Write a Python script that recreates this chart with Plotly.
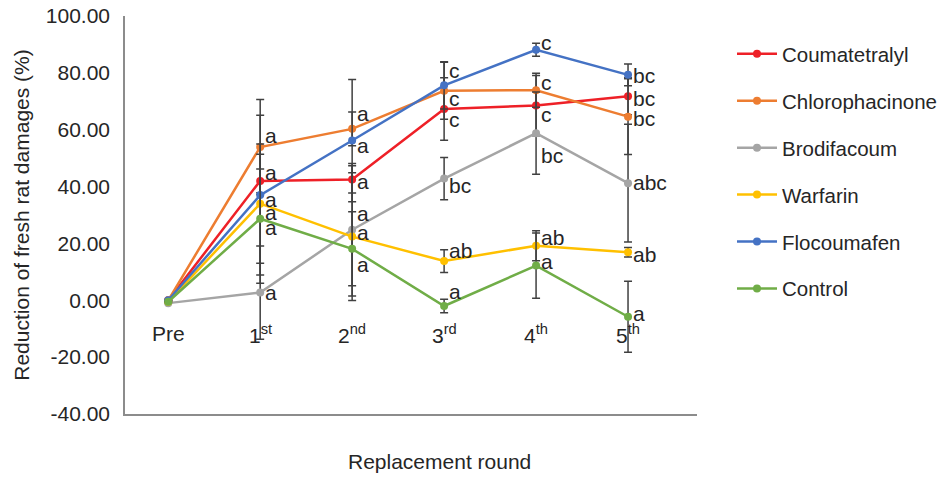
import plotly.graph_objects as go

# ---------------- data ----------------
rounds = ["Pre", "1<sup>st</sup>", "2<sup>nd</sup>", "3<sup>rd</sup>", "4<sup>th</sup>", "5<sup>th</sup>"]
series_names = ["Coumatetralyl", "Chlorophacinone", "Brodifacoum", "Warfarin", "Flocoumafen", "Control"]

coumatetralyl = [0.0, 42.0, 42.5, 67.3, 68.5, 71.8]
chlorophacinone = [0.0, 53.9, 60.3, 73.7, 73.9, 64.6]
brodifacoum = [-1.0, 2.7, 24.8, 42.8, 58.8, 41.2]
warfarin = [-0.5, 34.0, 22.4, 13.8, 19.2, 16.9]
flocoumafen = [0.0, 37.0, 56.2, 75.6, 88.1, 79.3]
control = [-0.5, 28.7, 18.1, -2.0, 12.2, -5.8]

err_coumatetralyl = [None, 4.2, 4.8, 11.0, 10.6, 6.5]
err_chlorophacinone = [None, 16.7, 5.9, 10.0, 6.0, 13.3]
err_brodifacoum = [None, 16.4, 23.3, 7.4, 14.5, 20.7]
err_warfarin = [None, 21.0, 22.5, 4.0, 5.3, 1.7]
err_flocoumafen = [None, 28.1, 21.5, 8.3, 2.3, 3.8]
err_control = [None, 22.7, 13.0, 2.4, 11.5, 12.5]

let_coumatetralyl = ["", "a", "a", "c", "c", "bc"]
let_chlorophacinone = ["", "a", "a", "c", "c", "bc"]
let_brodifacoum = ["", "a", "a", "bc", "bc", "abc"]
let_warfarin = ["", "a", "a", "ab", "ab", "ab"]
let_flocoumafen = ["", "a", "a", "c", "c", "bc"]
let_control = ["", "a", "a", "a", "a", "a"]

y_ticks = [100, 80, 60, 40, 20, 0, -20, -40]
y_tick_text = ["100.00", "80.00", "60.00", "40.00", "20.00", "0.00", "-20.00", "-40.00"]

# ---------------- styles ----------------
colors = ["#EE2027", "#ED7D31", "#A5A5A5", "#FFC000", "#4472C4", "#70AD47"]
# vertical pixel nudges of the significance letters (style only, + = up)
label_shift = [
    [0, 8, -2, -11, -9, -2],   # Coumatetralyl
    [0, 12, 15, -8, 8, -2],    # Chlorophacinone
    [0, 0, 16, -7, -22, 1],    # Brodifacoum
    [0, -9, 4, 11, 8, -2],     # Warfarin
    [0, -4, -5, 15, 7, -1],    # Flocoumafen
    [0, -9, -16, 14, 4, 3],    # Control
]
FONT = "Liberation Sans, Arial, sans-serif"
TXT = "#262626"
FS = 21

values = [coumatetralyl, chlorophacinone, brodifacoum, warfarin, flocoumafen, control]
errors = [err_coumatetralyl, err_chlorophacinone, err_brodifacoum, err_warfarin, err_flocoumafen, err_control]
letters = [let_coumatetralyl, let_chlorophacinone, let_brodifacoum, let_warfarin, let_flocoumafen, let_control]

xpos = list(range(len(rounds)))

fig = go.Figure()
for i, name in enumerate(series_names):
    fig.add_trace(go.Scatter(
        x=xpos, y=values[i], name=name, mode="lines+markers",
        line=dict(color=colors[i], width=2.5),
        marker=dict(color=colors[i], size=8),
        error_y=dict(type="data", array=errors[i], visible=True,
                     color="#404040", thickness=1.5, width=4),
        legendgroup=name,
    ))

annotations = []
# significance letters
for i in range(len(series_names)):
    for j, t in enumerate(letters[i]):
        if not t:
            continue
        annotations.append(dict(
            x=xpos[j], y=values[i][j], xref="x", yref="y", text=t,
            showarrow=False, xanchor="left", yanchor="middle",
            xshift=3, yshift=label_shift[i][j],
            font=dict(family=FONT, size=FS, color=TXT),
        ))
# category labels placed inside the plot, just below zero
for j, r in enumerate(rounds):
    annotations.append(dict(
        x=xpos[j], y=-11.8, xref="x", yref="y", text=r, showarrow=False,
        xanchor="center", yanchor="middle",
        font=dict(family=FONT, size=FS, color=TXT),
    ))
# x axis title
annotations.append(dict(
    x=0.55, y=-0.12, xref="paper", yref="paper", text="Replacement round",
    showarrow=False, xanchor="center", yanchor="middle",
    font=dict(family=FONT, size=FS, color=TXT),
))

fig.update_layout(
    width=944, height=477,
    margin=dict(l=125, r=247, t=16, b=63, autoexpand=False),
    paper_bgcolor="white", plot_bgcolor="white",
    font=dict(family=FONT, size=FS, color=TXT),
    showlegend=True,
    legend=dict(
        x=1.0612, xanchor="left", xref="paper", y=0.955, yanchor="top",
        font=dict(family=FONT, size=20.5, color=TXT),
        tracegroupgap=17.3, bgcolor="rgba(0,0,0,0)", itemwidth=40,
    ),
    annotations=annotations,
)
fig.update_xaxes(
    range=[-0.47, 5.75], showgrid=False, zeroline=False,
    showticklabels=False, ticks="", automargin=False,
    showline=True, linecolor="#8C8C8C", linewidth=1.5,
)
fig.update_yaxes(
    range=[-40, 100], tickvals=y_ticks, ticktext=y_tick_text,
    showgrid=False, zeroline=False, automargin=False,
    ticklabeloverflow="allow",
    ticks="outside", ticklen=9, tickcolor="rgba(0,0,0,0)",
    showline=True, linecolor="#8C8C8C", linewidth=1.5,
    tickfont=dict(family=FONT, size=FS, color=TXT),
    title=dict(text="Reduction of fresh rat damages (%)", standoff=10,
               font=dict(family=FONT, size=FS, color=TXT)),
)

fig.write_html(
    "out.html",
    config={"displayModeBar": False},
    post_script="document.body.style.margin='0px';document.body.style.overflow='hidden';",
)
